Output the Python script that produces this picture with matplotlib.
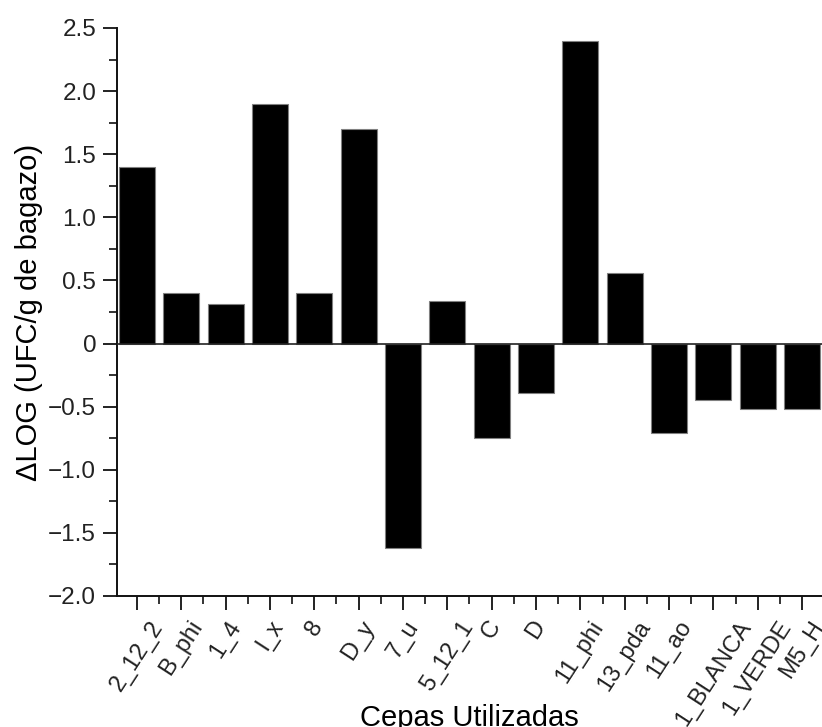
import numpy as np
import matplotlib
matplotlib.use('Agg')
import matplotlib.pyplot as plt
from matplotlib.ticker import MultipleLocator, FixedLocator, FuncFormatter

plt.rcParams['font.family'] = ['Liberation Sans', 'DejaVu Sans']

cepas = ['2_12_2', 'B_phi', '1_4', 'l_x', '8', 'D_y', '7_u', '5_12_1', 'C', 'D',
         '11_phi', '13_pda', '11_ao', '1_BLANCA', '1_VERDE', 'M5_H']
delta_log = [1.40, 0.40, 0.31, 1.90, 0.40, 1.70, -1.62, 0.34, -0.75, -0.39,
             2.40, 0.555, -0.705, -0.45, -0.515, -0.515]


def fmt_y(v, pos):
    if abs(v) < 1e-9:
        return '0'
    return ('%.1f' % v).replace('-', '\u2212')


fig = plt.figure(figsize=(8.22, 7.27), dpi=100)
ax = fig.add_axes([0.1423, 0.1802, 0.8577, 0.7813])

x = np.arange(len(cepas))
ax.bar(x, delta_log, width=0.81, color='black', edgecolor='#808080', linewidth=0.8, zorder=2)
ax.axhline(0, color='#222222', linewidth=1.2, zorder=3)

ax.set_xlim(-0.45, len(cepas) - 0.55)
ax.set_ylim(-2.0, 2.5)

for s in ['top', 'right']:
    ax.spines[s].set_visible(False)
for s in ['left', 'bottom']:
    ax.spines[s].set_linewidth(1.4)
    ax.spines[s].set_color('#111111')

ax.yaxis.set_major_locator(MultipleLocator(0.5))
ax.yaxis.set_minor_locator(MultipleLocator(0.25))
ax.yaxis.set_major_formatter(FuncFormatter(fmt_y))
ax.set_xticks(x)
ax.set_xticklabels(cepas, rotation=57, ha='center', va='top', fontsize=17)
ax.xaxis.set_minor_locator(FixedLocator(x[:-1] + 0.5))

ax.tick_params(which='major', direction='out', length=10, width=1.3, colors='#111111',
               labelcolor='#222222')
ax.tick_params(axis='y', which='major', labelsize=17.5, pad=5)
ax.tick_params(which='minor', direction='out', length=6, width=1.2, colors='#111111')
ax.tick_params(axis='x', which='major', pad=5)

ax.set_xlabel('Cepas Utilizadas', fontsize=21, va='center')
ax.set_ylabel('ΔLOG (UFC/g de bagazo)', fontsize=21, va='center')
ax.xaxis.set_label_coords(0.5, -0.215)
ax.yaxis.set_label_coords(-0.125, 0.5)

fig.savefig('out.png', dpi=100)
